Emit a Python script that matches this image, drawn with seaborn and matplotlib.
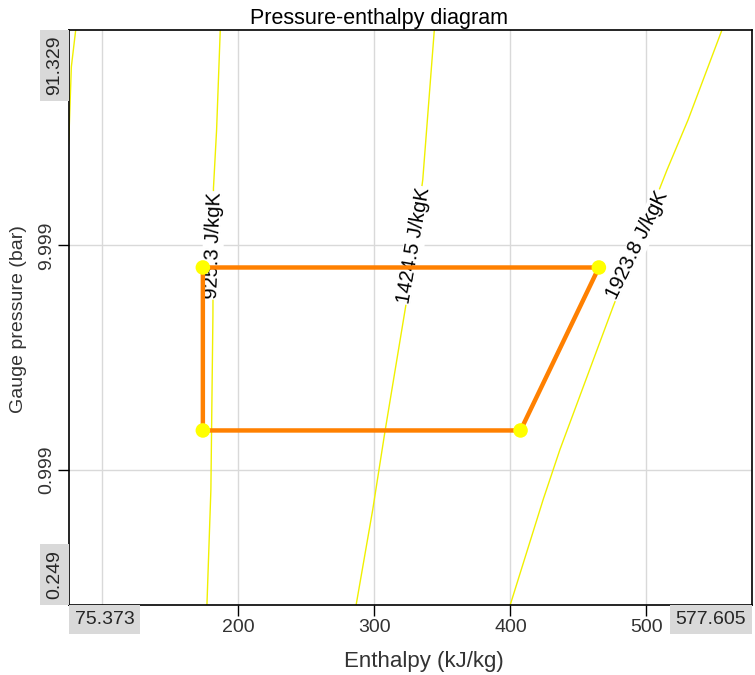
import pandas as pd
import matplotlib
matplotlib.use("Agg")
import matplotlib.pyplot as plt
import seaborn as sns

# --- data ---
cycle_h = [173.8, 407.4, 465.0, 173.8, 173.8]
cycle_p = [1.495, 1.495, 7.97, 7.97, 1.495]

iso_labels = ["", "925.3 J/kgK", "1424.5 J/kgK", "1923.8 J/kgK"]
iso_h = [
    [75.0, 75.37, 77.1, 80.3],
    [176.8, 179.7, 180.2, 181.2, 181.6, 183.9, 186.6],
    [286.5, 298.7, 307.8, 323.7, 335.5, 344.0],
    [399.8, 424.0, 436.3, 475.5, 515.1, 530.6, 555.5],
]
iso_p = [
    [28.0, 31.1, 62.6, 91.33],
    [0.249, 0.81, 1.48, 4.85, 18.0, 32.7, 91.33],
    [0.249, 0.662, 1.49, 5.70, 19.6, 91.33],
    [0.249, 0.734, 1.225, 5.34, 21.7, 36.3, 91.33],
]
label_h = [181.4, 329.0, 493.4]
label_p = [10.0, 10.0, 10.0]
label_rot = [88, 80, 64]

x_min, x_max = 75.373, 577.605
y_min, y_max = 0.249, 91.329
x_ticks = [200, 300, 400, 500]
y_ticks = [0.999, 9.999]
y_tick_labels = ["0.999", "9.999"]

sns.set_theme(style="white")
plt.rcParams["font.family"] = ["Liberation Sans", "DejaVu Sans"]

fig = plt.figure(figsize=(7.55, 6.75), dpi=100)
ax = fig.add_axes([69 / 755, 1 - 605 / 675, 683 / 755, 575 / 675])

grid_c = "#d9d9d9"
ax.axvline(100, color=grid_c, lw=1, zorder=0)

# isentropes
for h, p in zip(iso_h, iso_p):
    sns.lineplot(x=h, y=p, sort=False, estimator=None, color="#f0f000",
                 lw=1, ax=ax, zorder=2)

for lab, h, p, r in zip(iso_labels[1:], label_h, label_p, label_rot):
    ax.text(h, p, lab, rotation=r, ha="center", va="center", fontsize=14.5,
            color="black", zorder=3,
            bbox=dict(boxstyle="square,pad=0.05", fc="white", ec="none"))

# cycle
cyc = pd.DataFrame({"h": cycle_h, "p": cycle_p})
sns.lineplot(data=cyc, x="h", y="p", sort=False, estimator=None,
             color="#ff8000", lw=3.2, ax=ax, zorder=4)
ax.scatter(cycle_h[:4], cycle_p[:4], s=110, color="#ffff00", zorder=5,
           edgecolors="none")

ax.set_yscale("log")
ax.set_xlim(x_min, x_max)
ax.set_ylim(y_min, y_max)
ax.set_xticks(x_ticks)
ax.set_xticklabels([str(t) for t in x_ticks])
ax.set_yticks(y_ticks)
ax.set_yticklabels(y_tick_labels, rotation=90, va="center")
ax.minorticks_off()
ax.grid(True, color=grid_c, lw=1)
ax.set_axisbelow(True)
ax.tick_params(axis="both", direction="out", length=8, width=1, color="black",
               labelsize=14, labelcolor="#333333", bottom=True, left=True, pad=2)
for s in ax.spines.values():
    s.set_color("black")
    s.set_linewidth(1.2)

ax.set_xlabel("Enthalpy (kJ/kg)", fontsize=16, color="#333333")
ax.set_ylabel("Gauge pressure (bar)", fontsize=14, color="#333333")
ax.xaxis.set_label_coords((424 - 69) / 683, -46 / 575)
ax.yaxis.set_label_coords(-42 / 683, (605 - 319) / 575)
ax.set_title("Pressure-enthalpy diagram", fontsize=15.5, color="black",
             x=(379.5 - 69) / 683, pad=4)

# boxed axis-limit labels
box = dict(boxstyle="square,pad=0.3", fc="#d9d9d9", ec="none")
off = 4.2
ax.annotate(f"{x_min:.3f}", (0, 0), xycoords="axes fraction",
            xytext=(off, -off), textcoords="offset points",
            ha="left", va="top", fontsize=14, bbox=box)
ax.annotate(f"{x_max:.3f}", (1, 0), xycoords="axes fraction",
            xytext=(-off, -off), textcoords="offset points",
            ha="right", va="top", fontsize=14, bbox=box)
ax.annotate(f"{y_max:.3f}", (0, 1), xycoords="axes fraction",
            xytext=(-off, -off), textcoords="offset points",
            ha="right", va="top", rotation=90, fontsize=14, bbox=box)
ax.annotate(f"{y_min:.3f}", (0, 0), xycoords="axes fraction",
            xytext=(-off, off), textcoords="offset points",
            ha="right", va="bottom", rotation=90, fontsize=14, bbox=box)

fig.savefig("out.png", dpi=100)
